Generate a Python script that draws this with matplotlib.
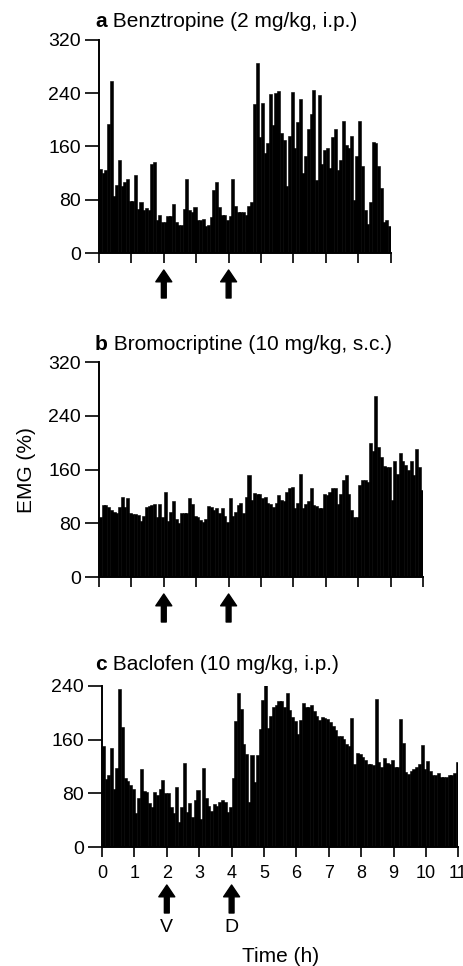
import matplotlib
matplotlib.use('Agg')
import matplotlib.pyplot as plt
import numpy as np

plt.rcParams['font.family'] = ['Liberation Sans', 'DejaVu Sans']

# 5-min bins, EMG (%)
benztropine = [126, 120, 124, 194, 259, 85, 102, 139, 100, 107, 111, 78,
               78, 117, 66, 76, 64, 67, 64, 134, 136, 49, 57, 46,
               46, 56, 56, 74, 47, 42, 42, 66, 111, 65, 61, 69,
               50, 50, 51, 40, 42, 54, 95, 106, 69, 57, 57, 50,
               55, 111, 70, 62, 62, 62, 57, 70, 77, 224, 286, 174,
               225, 150, 166, 239, 192, 240, 244, 180, 170, 100, 176, 242,
               157, 197, 231, 120, 145, 187, 209, 245, 110, 237, 134, 155,
               157, 127, 174, 186, 125, 139, 199, 162, 157, 176, 80, 145,
               199, 130, 65, 44, 76, 167, 166, 130, 97, 47, 49, 40, 72]
benztropine = benztropine[:108]

bromocriptine = [89, 107, 107, 104, 100, 97, 96, 104, 119, 104, 117, 95,
                 94, 94, 92, 84, 91, 104, 105, 107, 108, 90, 108, 90,
                 126, 84, 97, 113, 87, 80, 95, 95, 95, 117, 108, 91,
                 89, 85, 82, 87, 105, 104, 100, 103, 95, 103, 91, 82,
                 117, 91, 97, 107, 110, 96, 119, 152, 114, 125, 124, 123,
                 117, 119, 110, 109, 104, 110, 122, 114, 113, 127, 133, 134,
                 102, 110, 154, 102, 108, 113, 133, 107, 105, 103, 102, 123,
                 122, 127, 132, 133, 109, 124, 144, 152, 124, 100, 90, 90,
                 137, 144, 145, 142, 200, 187, 270, 194, 179, 165, 164, 164,
                 115, 172, 154, 185, 172, 167, 160, 173, 152, 190, 164, 130]

baclofen = [150, 102, 108, 147, 87, 118, 236, 179, 103, 98, 93, 87,
            51, 73, 117, 83, 82, 65, 60, 82, 77, 87, 100, 80,
            80, 59, 50, 90, 37, 59, 125, 52, 65, 45, 70, 85,
            42, 118, 73, 61, 54, 64, 61, 67, 70, 67, 52, 60,
            103, 188, 230, 205, 153, 139, 67, 137, 97, 137, 176, 219,
            251, 178, 196, 208, 211, 218, 217, 208, 230, 204, 194, 188,
            169, 190, 215, 208, 208, 211, 203, 196, 190, 194, 193, 191,
            186, 180, 174, 166, 165, 161, 153, 150, 193, 123, 140, 139,
            134, 129, 124, 123, 122, 220, 127, 120, 133, 125, 123, 129,
            120, 119, 191, 155, 112, 109, 114, 117, 120, 123, 152, 116,
            128, 114, 108, 107, 110, 105, 104, 104, 108, 107, 110, 127]

titles = ['Benztropine (2 mg/kg, i.p.)', 'Bromocriptine (10 mg/kg, s.c.)',
          'Baclofen (10 mg/kg, i.p.)']
letters = ['a', 'b', 'c']
series = [benztropine, bromocriptine, baclofen]
hours = [9, 10, 11]
ymax = [320, 320, 240]
arrow_times = [2, 4]
arrow_labels = ['V', 'D']

W, H = 464, 966
fig = plt.figure(figsize=(W / 100, H / 100), dpi=100)

hour_px = 32.4
# (left, top, bottom) in pixels
boxes = [(99, 40, 253), (99, 362, 577), (102, 686, 847)]
title_base = [27, 350, 670]

for i in range(3):
    left, top, bottom = boxes[i]
    w = hours[i] * hour_px
    ax = fig.add_axes([left / W, 1 - bottom / H, w / W, (bottom - top) / H])
    vals = np.array(series[i])
    x = np.arange(len(vals)) / 12.0
    # slightly wider than the bin so no hairline gaps show between bars
    ax.bar(x, vals, width=1 / 12.0 + 0.012, align='edge', color='black',
           edgecolor='black', linewidth=0.4)
    ax.set_xlim(0, hours[i])
    ax.set_ylim(0, ymax[i])
    ax.set_yticks(np.arange(0, ymax[i] + 1, 80))
    ax.set_xticks(np.arange(0, hours[i] + 1))
    for s in ['top', 'right']:
        ax.spines[s].set_visible(False)
    for s in ['left', 'bottom']:
        ax.spines[s].set_linewidth(1.4)
    ax.tick_params(axis='y', length=10, width=1.2, pad=3, labelsize=14)
    ax.tick_params(axis='x', length=7, width=1.2, pad=6, labelsize=13)
    if i < 2:
        ax.set_xticklabels([])

    # title: bold letter then name
    t = fig.text(95 / W, 1 - title_base[i] / H, letters[i], fontsize=15,
                 fontweight='bold', va='baseline')
    ax.annotate(' ' + titles[i], xy=(1, 0), xycoords=t, va='bottom',
                fontsize=15, annotation_clip=False)

    # arrows below axis
    hpx = bottom - top
    if i == 0:
        tip, tail = 270, 298
    elif i == 1:
        tip, tail = 594, 622
    else:
        tip, tail = 885, 913
    for j, tt in enumerate(arrow_times):
        ax.annotate('', xy=(tt, (bottom - tip) / hpx),
                    xytext=(tt, (bottom - tail) / hpx),
                    xycoords=ax.get_xaxis_transform(),
                    annotation_clip=False,
                    arrowprops=dict(facecolor='black', edgecolor='black',
                                    width=3.5, headwidth=11.5, headlength=8.5,
                                    shrink=0))
        if i == 2:
            ax.text(tt, (bottom - 927) / hpx, arrow_labels[j],
                    transform=ax.get_xaxis_transform(), ha='center',
                    va='center', fontsize=14)
    if i == 2:
        ax.text(5.5, (bottom - 957) / hpx, 'Time (h)',
                transform=ax.get_xaxis_transform(), ha='center',
                va='center', fontsize=15)

fig.text(27 / W, 1 - 470 / H, 'EMG (%)', rotation=90, ha='center',
         va='center', fontsize=15)

plt.savefig('out.png', dpi=100)
